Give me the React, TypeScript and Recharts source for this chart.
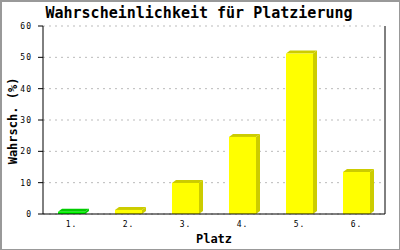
import { BarChart, Bar, XAxis, YAxis, CartesianGrid, Cell } from "recharts";

const places = ["1.", "2.", "3.", "4.", "5.", "6."];
const chances = [0.7, 1.3, 9.9, 24.6, 51.2, 13.4];
const barColors = ["#00ff00", "#ffff00", "#ffff00", "#ffff00", "#ffff00", "#ffff00"];
const yTicks = [0, 10, 20, 30, 40, 50, 60];

const data = places.map((name, i) => ({ name, value: chances[i] }));

const mono = "'DejaVu Sans Mono', monospace";

const darker: Record<string, string> = {
  "#00ff00": "#00cc00",
  "#ffff00": "#cccc00",
};

// front face plus a slanted top and side, like the old 3d bar look
function Bar3D(props: any) {
  const { x, y, width, height, fill } = props;
  const dx = 4;
  const dy = 3;
  const dark = darker[fill] || fill;
  return (
    <g>
      <polygon
        points={`${x},${y} ${x + dx},${y - dy} ${x + width + dx},${y - dy} ${x + width},${y}`}
        fill={dark}
      />
      <polygon
        points={`${x + width},${y} ${x + width + dx},${y - dy} ${x + width + dx},${y + height - dy} ${x + width},${y + height}`}
        fill={dark}
      />
      <rect x={x} y={y} width={width} height={height} fill={fill} />
    </g>
  );
}

export default function App() {
  return (
    <div style={{ position: "absolute", left: 0, top: 0, width: 400, height: 250, background: "#fff" }}>
      <BarChart
        width={400}
        height={250}
        data={data}
        margin={{ top: 26, right: 14, left: 0, bottom: 16 }}
      >
        <CartesianGrid vertical={false} stroke="#bbbbbb" strokeDasharray="2 4" />
        <XAxis
          dataKey="name"
          height={20}
          tickLine={false}
          tickSize={0}
          tickMargin={7}
          axisLine={{ stroke: "#000" }}
          tick={{ fontSize: 8, fill: "#000", fontFamily: mono, letterSpacing: 1 }}
        />
        <YAxis
          domain={[0, 60]}
          ticks={yTicks}
          width={43}
          tickSize={5}
          tickMargin={6}
          axisLine={{ stroke: "#000" }}
          tickLine={{ stroke: "#000" }}
          tick={{ fontSize: 8, fill: "#000", fontFamily: mono, letterSpacing: 1 }}
        />
        <YAxis
          yAxisId="right"
          orientation="right"
          width={1}
          tick={false}
          tickLine={false}
          axisLine={{ stroke: "#000" }}
        />
        <Bar dataKey="value" barSize={27} shape={Bar3D} isAnimationActive={false}>
          {data.map((d, i) => (
            <Cell key={d.name} fill={barColors[i]} />
          ))}
        </Bar>
        <text x={199} y={18} textAnchor="middle" fontSize={15} fontWeight="bold" fontFamily={mono} fill="#000">
          Wahrscheinlichkeit für Platzierung
        </text>
        <text x={214} y={243} textAnchor="middle" fontSize={12} fontWeight="bold" fontFamily={mono} fill="#000">
          Platz
        </text>
        <text
          x={17}
          y={121}
          textAnchor="middle"
          fontSize={12}
          fontWeight="bold"
          fontFamily={mono}
          fill="#000"
          transform="rotate(-90 17 121)"
        >
          Wahrsch. (%)
        </text>
      </BarChart>
      <div
        style={{
          position: "absolute",
          left: 0,
          top: 0,
          width: 400,
          height: 250,
          boxSizing: "border-box",
          borderLeft: "2px solid #999",
          borderTop: "2px solid #999",
          borderRight: "1px solid #999",
          borderBottom: "1px solid #999",
          pointerEvents: "none",
        }}
      />
    </div>
  );
}
